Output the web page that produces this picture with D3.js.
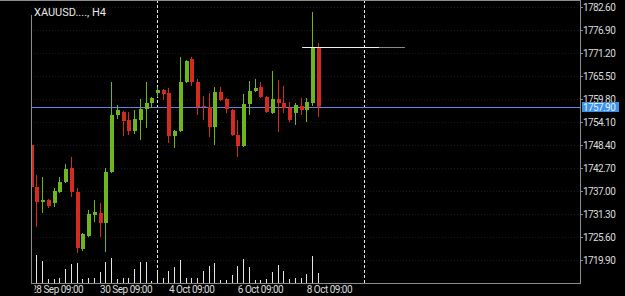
<!DOCTYPE html>
<html><head><meta charset="utf-8">
<script src="https://cdn.jsdelivr.net/npm/d3@7"></script>
<style>html,body{margin:0;padding:0;background:#000;overflow:hidden}</style>
</head><body>
<svg id="c" width="625" height="296"></svg>
<script>
const symbolTitle = "XAUUSD...., H4";
const opens = [1748.40,1737.99,1734.27,1734.77,1734.03,1736.75,1739.23,1742.70,1736.75,1722.63,
  1725.85,1731.05,1731.55,1729.07,1741.71,1755.84,1756.58,1754.60,1751.87,1754.60,
  1757.32,1758.81,1761.29,1762.03,1761.29,1750.63,1751.87,1764.01,1769.71,1764.01,
  1758.07,1757.82,1752.86,1761.53,1759.80,1757.07,1750.88,1748.15,1758.56,1761.78,
  1762.77,1760.30,1756.33,1759.80,1758.81,1757.57,1756.33,1758.07,1757.07,1758.81,
  1772.44];
const highs = [1748.65,1740.96,1740.47,1735.02,1737.74,1740.47,1743.69,1745.43,1737.74,1726.59,
  1732.29,1734.77,1734.03,1742.70,1764.01,1758.31,1756.83,1756.58,1757.07,1759.80,
  1764.01,1760.30,1762.77,1762.28,1762.53,1752.12,1770.21,1769.47,1770.21,1764.76,
  1760.54,1761.29,1762.77,1762.77,1760.05,1757.32,1754.60,1761.04,1764.26,1764.76,
  1764.01,1760.54,1766.74,1764.51,1763.02,1759.06,1758.81,1760.05,1760.05,1781.36,
  1773.68];
const lows = [1737.74,1728.08,1731.55,1732.79,1733.04,1736.50,1738.98,1735.51,1721.63,1722.13,
  1725.60,1729.32,1725.60,1721.88,1741.46,1754.84,1750.63,1750.88,1751.13,1749.64,
  1752.61,1757.57,1760.30,1759.55,1748.90,1747.66,1751.62,1763.76,1763.02,1755.84,
  1754.60,1750.38,1748.40,1759.30,1756.33,1750.63,1745.43,1747.90,1755.84,1761.53,
  1760.05,1756.33,1756.08,1751.62,1756.33,1754.10,1753.36,1755.84,1754.10,1758.07,
  1755.34];
const closes = [1737.99,1734.27,1734.77,1733.28,1737.00,1739.23,1742.45,1736.75,1722.87,1726.34,
  1731.30,1731.80,1729.07,1741.71,1755.84,1757.07,1754.35,1751.87,1754.84,1757.32,
  1758.81,1760.05,1762.03,1761.04,1750.63,1751.87,1764.01,1769.22,1764.01,1757.82,
  1757.82,1752.86,1761.53,1759.55,1757.32,1750.88,1748.15,1758.56,1761.78,1762.53,
  1760.30,1756.58,1759.80,1758.81,1757.57,1754.60,1758.31,1757.07,1759.06,1772.44,
  1757.90];
const volumes = [1800,2800,2200,400,400,500,1400,1900,2000,400,
  500,500,1100,2100,2500,400,500,500,1400,2100,
  2100,200,1200,500,1200,1600,2300,500,500,500,
  1200,1700,2000,300,300,800,1700,2400,1600,300,
  300,400,1100,1800,1200,400,500,500,900,2700,
  1000];
const timeLabels = ["28 Sep 09:00","30 Sep 09:00","4 Oct 09:00","6 Oct 09:00","8 Oct 09:00"];
const timeLabelIndex = [0,12,24,36,48];
const separatorIndex = [22,58];
const priceTicks = [1782.60,1776.90,1771.20,1765.50,1759.80,1754.10,1748.40,1742.70,1737.00,1731.30,1725.60,1719.90];
const bidPrice = 1757.90;
const levelPrice = 1772.5;
const levelSpan = [47.2, 60.6, 65.1];

const W = 625, H = 296;
const L = 31, R = 580, B = 283;
const x = d3.scaleLinear().domain([0, 95.6]).range([31.2, 580]);
const y = d3.scaleLinear().domain([1719.9, 1782.6]).range([260, 7]);
const vol = d3.scaleLinear().domain([0, 2800]).range([B, B - 28]);
const UP = "#6db61f", DOWN = "#d22b1f";
const FONT = "Roboto, 'Noto Sans', sans-serif";

const svg = d3.select("#c");
svg.append("rect").attr("width", W).attr("height", H).attr("fill", "#000");
const defs = svg.append("defs");
defs.append("clipPath").attr("id", "plot").append("rect")
  .attr("x", L + 0.5).attr("y", 0).attr("width", R - L).attr("height", B);
defs.append("clipPath").attr("id", "lab").append("rect")
  .attr("x", 34.5).attr("y", B).attr("width", R - 34).attr("height", H - B);

const g = svg.append("g").attr("clip-path", "url(#plot)");

// faint grid
g.selectAll("line.hg").data(priceTicks).join("line")
  .attr("x1", L).attr("x2", R)
  .attr("y1", d => Math.round(y(d)) + 0.5).attr("y2", d => Math.round(y(d)) + 0.5)
  .attr("stroke", "#1b1b1b").attr("stroke-dasharray", "1,2");

// volumes
const idx = d3.range(opens.length);
g.selectAll("line.v").data(idx).join("line")
  .attr("x1", i => Math.floor(x(i)) + 0.5).attr("x2", i => Math.floor(x(i)) + 0.5)
  .attr("y1", vol(0)).attr("y2", i => vol(volumes[i]))
  .attr("stroke", "#e4e4e4").attr("stroke-width", 1);

// separators
g.selectAll("line.sep").data(separatorIndex).join("line")
  .attr("x1", d => Math.floor(x(d)) + 0.5).attr("x2", d => Math.floor(x(d)) + 0.5)
  .attr("y1", 0).attr("y2", B)
  .attr("stroke", "#e8e8e8").attr("stroke-dasharray", "3,2");

// bid line
const by = Math.round(y(bidPrice)) + 0.5;
g.append("line").attr("x1", L).attr("x2", R).attr("y1", by).attr("y2", by)
  .attr("stroke", "#6a7ee6").attr("stroke-width", 1);

// candles
const cg = g.selectAll("g.c").data(idx).join("g");
cg.append("line")
  .attr("x1", i => Math.floor(x(i)) + 0.5).attr("x2", i => Math.floor(x(i)) + 0.5)
  .attr("y1", i => y(highs[i])).attr("y2", i => y(lows[i]))
  .attr("stroke", i => closes[i] >= opens[i] ? UP : DOWN).attr("stroke-width", 1);
cg.append("rect")
  .attr("x", i => Math.floor(x(i)) - 1).attr("width", 4)
  .attr("y", i => y(Math.max(opens[i], closes[i])))
  .attr("height", i => Math.max(1, Math.abs(y(opens[i]) - y(closes[i]))))
  .attr("fill", i => closes[i] >= opens[i] ? UP : DOWN);

// level line
const ly = Math.floor(y(levelPrice)) + 0.5;
g.append("line").attr("x1", x(levelSpan[0])).attr("x2", x(levelSpan[1]))
  .attr("y1", ly).attr("y2", ly).attr("stroke", "#f0f0f0");
g.append("line").attr("x1", x(levelSpan[1])).attr("x2", x(levelSpan[2]))
  .attr("y1", ly).attr("y2", ly).attr("stroke", "#8a8a8a");

// borders
const bc = "#8c8c8c";
svg.append("line").attr("x1", 0).attr("x2", R + 1).attr("y1", 0.5).attr("y2", 0.5).attr("stroke", bc);
svg.append("line").attr("x1", R + 0.5).attr("x2", R + 0.5).attr("y1", 0).attr("y2", B + 1).attr("stroke", bc);
svg.append("line").attr("x1", L).attr("x2", R + 1).attr("y1", B + 0.5).attr("y2", B + 0.5).attr("stroke", bc);
svg.append("line").attr("x1", L + 0.5).attr("x2", L + 0.5).attr("y1", 15).attr("y2", B + 1).attr("stroke", bc);

// price axis
const pa = svg.append("g");
pa.selectAll("line").data(priceTicks).join("line")
  .attr("x1", R).attr("x2", R + 3)
  .attr("y1", d => Math.round(y(d)) + 0.5).attr("y2", d => Math.round(y(d)) + 0.5)
  .attr("stroke", bc);
pa.selectAll("text").data(priceTicks).join("text")
  .attr("x", R + 3).attr("y", d => y(d) + 3.6)
  .attr("font-family", FONT).attr("font-size", 10).attr("letter-spacing", -0.6)
  .attr("fill", "#dcdcdc").text(d => d.toFixed(2));

// bid price box
pa.append("rect").attr("x", R + 2).attr("y", by - 5.5).attr("width", 37).attr("height", 10)
  .attr("fill", "#3d8fe8");
pa.append("text").attr("x", R + 3).attr("y", by + 3.5)
  .attr("font-family", FONT).attr("font-size", 10).attr("letter-spacing", -0.6)
  .attr("fill", "#e8f1ff").text(bidPrice.toFixed(2));

// time axis
svg.append("g").attr("clip-path", "url(#lab)")
  .selectAll("text").data(timeLabels).join("text")
  .attr("x", (d, k) => x(timeLabelIndex[k])).attr("y", 293)
  .attr("font-family", FONT).attr("font-size", 10).attr("letter-spacing", -0.5)
  .attr("fill", "#dcdcdc").text(d => d);

// title
svg.append("text").attr("x", 34).attr("y", 16)
  .attr("font-family", FONT).attr("font-size", 11)
  .attr("fill", "#e8e8e8").text(symbolTitle);
</script>
</body></html>
